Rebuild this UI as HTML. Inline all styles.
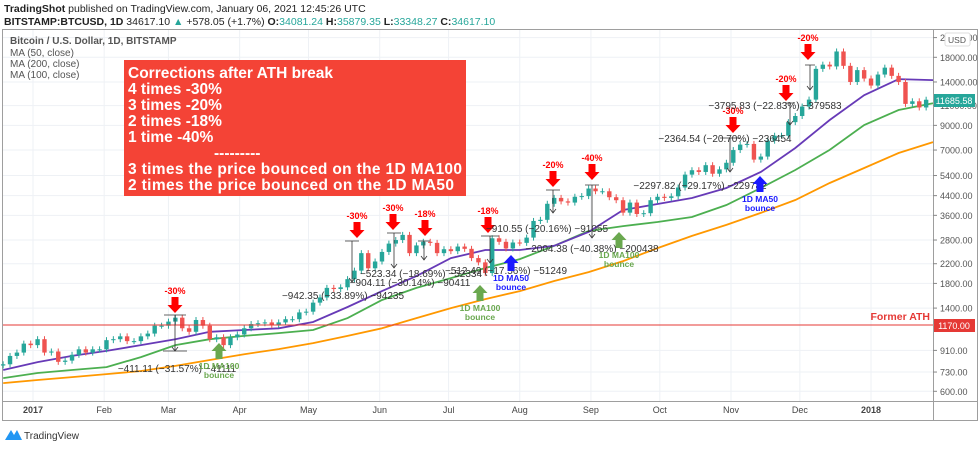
<!DOCTYPE html>
<html><head><meta charset="utf-8"><style>
body{margin:0;background:#fff;width:980px;height:445px;overflow:hidden;font-family:"Liberation Sans",sans-serif}
svg text{font-family:"Liberation Sans",sans-serif}
</style></head><body>
<svg id="c" width="980" height="445" viewBox="0 0 980 445" xmlns="http://www.w3.org/2000/svg">
<text x="4" y="12" font-size="10.5" fill="#222"><tspan font-weight="bold">TradingShot</tspan> published on TradingView.com, January 06, 2021 12:45:26 UTC</text>
<text x="4" y="25" font-size="10.5" fill="#222"><tspan font-weight="bold">BITSTAMP:BTCUSD, 1D</tspan> 34617.10 <tspan fill="#26a69a">▲</tspan> +578.05 (+1.7%) <tspan font-weight="bold">O:</tspan><tspan fill="#26a69a">34081.24</tspan> <tspan font-weight="bold">H:</tspan><tspan fill="#26a69a">35879.35</tspan> <tspan font-weight="bold">L:</tspan><tspan fill="#26a69a">33348.27</tspan> <tspan font-weight="bold">C:</tspan><tspan fill="#26a69a">34617.10</tspan></text>
<rect x="2.5" y="29.5" width="975" height="391" fill="none" stroke="#9e9e9e"/>
<line x1="933.5" y1="29" x2="933.5" y2="421" stroke="#9e9e9e"/>
<line x1="2" y1="401.5" x2="978" y2="401.5" stroke="#9e9e9e"/>
<g id="grid"></g>
<g id="mas"></g>
<g id="candles"></g>
<g id="axes"></g>
<line x1="3" y1="325" x2="933" y2="325" stroke="#e53935" stroke-width="1"/>
<text x="930" y="320" font-size="10.5" font-weight="bold" fill="#e53935" text-anchor="end">Former ATH</text>
<rect x="934" y="319" width="41" height="13" fill="#e53935"/>
<text x="954" y="329" font-size="9" fill="#fff" text-anchor="middle">1170.00</text>
<rect x="934" y="94" width="41" height="13" fill="#26a69a"/>
<text x="954" y="104" font-size="9" fill="#fff" text-anchor="middle">11685.58</text>
<rect x="945" y="33" width="25" height="13" rx="2" fill="#fff" stroke="#ddd"/>
<text x="957" y="43" font-size="8.5" fill="#555" text-anchor="middle">USD</text>
<g font-size="10" fill="#555">
<text x="10" y="44" font-weight="bold">Bitcoin / U.S. Dollar, 1D, BITSTAMP</text>
<text x="10" y="56">MA (50, close)</text>
<text x="10" y="67">MA (200, close)</text>
<text x="10" y="78">MA (100, close)</text>
</g>
<rect x="124" y="60" width="342" height="136" fill="#f44336"/>
<g font-size="15.5" font-weight="bold" fill="#fff">
<text x="128" y="78">Corrections after ATH break</text>
<text x="128" y="94">4 times -30%</text>
<text x="128" y="110">3 times -20%</text>
<text x="128" y="126">2 times -18%</text>
<text x="128" y="142">1 time -40%</text>
<text x="214" y="158">---------</text>
<text x="128" y="174" textLength="334">3 times the price bounced on the 1D MA100</text>
<text x="128" y="190" textLength="326">2 times the price bounced on the 1D MA50</text>
</g>
<g id="ann"></g>
<g>
<path d="M5 440 L11 430 L14 435 L17 430 L22 440 Z" fill="#2196f3"/>
<text x="24" y="439" font-size="10" fill="#333">TradingView</text>
</g>
</svg>
<script>
// ---- data ----
const closes = [790,860,890,975,960,
1020,890,900,810,820,870,920,890,920,920,
1010,1020,1050,1000,1000,1050,1080,1170,1170,
1220,1270,1140,1100,1240,1170,1020,1040,960,1040,1070,
1140,1190,1200,1210,1180,1210,1250,1250,1340,1350,
1480,1560,1720,1700,1730,1880,2050,2450,2100,2250,
2480,2700,2800,2950,2450,2650,2750,2720,2450,2550,
2500,2620,2560,2330,2230,2000,2850,2750,2570,2730,
2720,2870,3400,3440,4050,4300,4150,4100,4350,4380,4730,
4600,4600,4330,4200,3700,4100,3650,3680,4200,4350,
4300,4370,4780,5450,5700,5600,6000,5500,5750,6150,
7000,7400,7450,6350,6550,7700,8100,8100,9300,9900,
10900,11700,16000,16700,16400,19100,16500,14000,15800,14500,
13500,15100,16200,14900,14000,11200,11500,10800,11685];
const ma50 = [745,808,860,905,960,1020,1100,1120,1140,1215,1415,1665,1940,2330,2530,2530,2640,3040,3800,4040,4295,4755,5600,7150,9510,12240,14410,14270];
const ma100 = [686,723,745,768,850,960,1020,1055,1085,1120,1265,1520,1720,1900,2105,2305,2640,3070,3225,3365,3540,4000,4755,5710,7010,9030,10520,11280];
const ma200 = [652,673,693,715,738,777,825,875,922,980,1055,1140,1265,1400,1535,1665,1845,2020,2260,2580,2920,3265,3690,4210,5005,5830,6790,7590];
const priceTicks = [22000,18000,14000,11000,9000,7000,5400,4400,3600,2800,2200,1800,1400,910,730,600];
const monthLabels = ['2017','Feb','Mar','Apr','May','Jun','Jul','Aug','Sep','Oct','Nov','Dec','2018'];
const monthDays = [0,31,59,90,120,151,181,212,243,273,304,334,365];
const firstDay = -13, candleStep = 3, maStep = 15, firstOpen = 780;

// ---- scales ----
const NS='http://www.w3.org/2000/svg';
const xOf = d => 33 + d*2.296;
const yOf = p => 57.3 + 98.2*Math.log(18000/p);
function mk(tag, attrs, parent){const e=document.createElementNS(NS,tag);for(const k in attrs)e.setAttribute(k,attrs[k]);parent.appendChild(e);return e;}

const grid=document.getElementById('grid'), axes=document.getElementById('axes');
priceTicks.forEach(p=>{
  const y=yOf(p);
  const g=mk('line',{x1:3,x2:933,y1:y,y2:y,stroke:'#eef1f5'},grid);
  
  
  mk('line',{x1:933,x2:937,y1:y,y2:y,stroke:'#888'},axes);
  const t=mk('text',{x:940,y:y+3.5,'font-size':9,fill:'#555'},axes);
  t.textContent=p.toFixed(2);
  
  
});
monthLabels.forEach((m,i)=>{
  const x=xOf(monthDays[i]);
  const g=mk('line',{x1:x,x2:x,y1:30,y2:401,stroke:'#eef1f5'},grid);
  
  
  const t=mk('text',{x:x,y:413,'font-size':9,fill:'#444','text-anchor':'middle','font-weight':(m.length==4?'bold':'normal')},axes);
  t.textContent=m;
  
  
});

const mas=document.getElementById('mas');
[[ma200,'#ff9800','ma200-line'],[ma100,'#4caf50','ma100-line'],[ma50,'#673ab7','ma50-line']].forEach(([arr,col,name])=>{
  const d=arr.map((v,i)=>(i?'L':'M')+xOf(firstDay+i*maStep).toFixed(1)+' '+yOf(v).toFixed(1)).join(' ');
  const p=mk('path',{d:d,fill:'none',stroke:col,'stroke-width':1.8},mas);
  
  
});

const cg=document.getElementById('candles');
closes.forEach((c,i)=>{
  const o=i?closes[i-1]:firstOpen;
  const x=xOf(firstDay+i*candleStep);
  const up=c>=o, col=up?'#26a69a':'#ef5350';
  const yt=yOf(Math.max(o,c)), yb=yOf(Math.min(o,c));
  mk('line',{x1:x,x2:x,y1:yt-3,y2:yb+3,stroke:col,'stroke-width':1},cg);
  const r=mk('rect',{x:x-2.2,y:yt,width:4.4,height:Math.max(1,yb-yt),fill:col},cg);
  
  
});

// ---- annotations ----
const ann=document.getElementById('ann');
function downArrow(x,y,label){
  const p=mk('path',{d:`M${x-3.5} ${y} h7 v8 h4 l-7.5 8 l-7.5 -8 h4 z`,fill:'#f00'},ann);
  
  
  const t=mk('text',{x:x,y:y-3,'font-size':9,'font-weight':'bold',fill:'#f00','text-anchor':'middle'},ann);
  t.textContent=label;
  
  
}
function upArrow(x,y,col,l1){
  const p=mk('path',{d:`M${x} ${y} l7.5 8 h-4 v8 h-7 v-8 h-4 z`,fill:col},ann);
  
  
  const a=mk('text',{x:x,y:y+26,'font-size':8.5,'font-weight':'bold',fill:col,'text-anchor':'middle'},ann);
  a.textContent=l1;
  
  
  const b=mk('text',{x:x,y:y+35,'font-size':8.5,'font-weight':'bold',fill:col,'text-anchor':'middle'},ann);
  b.textContent='bounce';
  
  
}
function measure(x,y1,y2,w){
  mk('path',{d:`M${x-w} ${y1} h${2*w} M${x} ${y1} V${y2} M${x-3} ${y2-4} L${x} ${y2} L${x+3} ${y2-4}`,stroke:'#333','stroke-width':0.8,fill:'none'},ann);
}
function mtext(x,y,s){
  const t=mk('text',{x:x,y:y,'font-size':10,fill:'#333','text-anchor':'middle'},ann);
  t.textContent=s;
  
  
}
downArrow(175,297,'-30%'); measure(175,315,351,11); mk('line',{x1:163,x2:187,y1:351,y2:351,stroke:'#333','stroke-width':0.8},ann);
mtext(177,372,'\u2212411.11 (\u221231.57%) \u221241111');
upArrow(219,343,'#6aa84f','1D MA100');
downArrow(357,222,'-30%'); measure(352,241,282,7); mtext(343,299,'\u2212942.35 (\u221233.89%) \u221294235');
downArrow(393,214,'-30%'); measure(394,233,268,7); mtext(410,286,'\u2212904.11 (\u221230.14%) \u221290411');
downArrow(425,220,'-18%'); measure(424,241,260,6); mtext(421,277,'\u2212523.34 (\u221218.69%) \u221252334');
downArrow(488,217,'-18%'); measure(490,236,263,9); mtext(506,274,'\u2212512.49 (\u221217.56%) \u221251249');
upArrow(511,255,'#1a1aff','1D MA50');
upArrow(480,285,'#6aa84f','1D MA100');
downArrow(553,171,'-20%'); measure(553,190,213,7); mtext(547,232,'\u2212910.55 (\u221220.16%) \u221291055');
downArrow(592,164,'-40%'); measure(592,185,238,7); mtext(592,252,'\u22122004.38 (\u221240.38%) \u2212200438');
upArrow(619,232,'#6aa84f','1D MA100');
downArrow(733,117,'-30%'); measure(730,138,172,10); mtext(700,189,'\u22122297.82 (\u221229.17%) \u2212229782');
upArrow(760,176,'#1a1aff','1D MA50');
downArrow(786,85,'-20%'); measure(790,103,125,5); mtext(725,142,'\u22122364.54 (\u221220.70%) \u2212236454');
downArrow(808,44,'-20%'); measure(810,65,90,5); mtext(775,109,'\u22123795.83 (\u221222.83%) \u2212379583');
</script>
</body></html>
